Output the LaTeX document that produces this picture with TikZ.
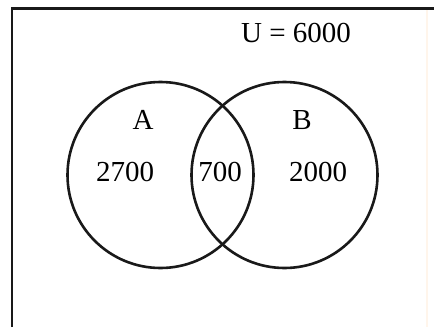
\documentclass[tikz,border=0pt]{standalone}
\usepackage{fontspec}
\setmainfont{Liberation Serif}
\begin{document}
\begin{tikzpicture}[x=1pt,y=-1pt,
  setcircle/.style={circle,draw=black!90,line width=2.6pt,inner sep=0pt,minimum size=186pt},
  lbl/.style={inner sep=0pt,font=\fontsize{29}{34}\selectfont},
  frameline/.style={line width=2.8pt,draw=black!90}]
\useasboundingbox (0,0) rectangle (434,327);
\fill[white] (0,0) rectangle (434,327);
\coordinate (bl) at (12,327);
\coordinate (tl) at (12,8.5);
\coordinate (tr) at (434,8.5);
\draw[frameline] (bl) -- (tl) -- (tr);
\draw[line width=2pt,draw=orange!8] (427,10) -- (427,327);
\node[setcircle] (setA) at (160.5,175) {};
\node[setcircle] (setB) at (284.5,175) {};
\node[lbl] (u) at (296,33) {U = 6000};
\node[lbl] (a) at (143,120) {A};
\node[lbl] (b) at (302,120) {B};
\node[lbl] (n1) at (125,172) {2700};
\node[lbl] (n2) at (220,172) {700};
\node[lbl] (n3) at (318,172) {2000};
\end{tikzpicture}
\end{document}
